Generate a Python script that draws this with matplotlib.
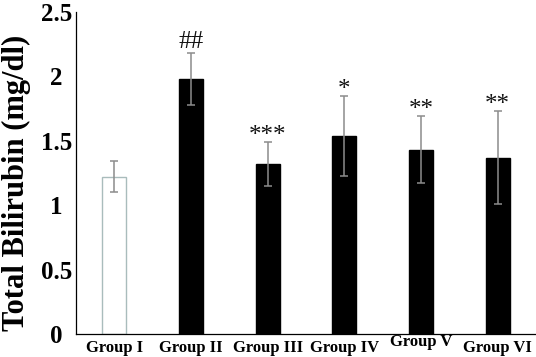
import numpy as np
import matplotlib
matplotlib.use("Agg")
import matplotlib.pyplot as plt

groups = ["Group I", "Group II", "Group III", "Group IV", "Group V", "Group VI"]
means = [1.22, 1.98, 1.32, 1.54, 1.43, 1.37]
errors = [0.12, 0.20, 0.17, 0.31, 0.26, 0.36]
marks = ["", "##", "***", "*", "**", "**"]
yticks = [0, 0.5, 1, 1.5, 2, 2.5]

plt.rcParams['font.family'] = ['Liberation Serif', 'DejaVu Serif']

fig = plt.figure(figsize=(5.36, 3.57), dpi=100)
ax = fig.add_axes([76 / 536, 23 / 357, 460 / 536, 322 / 357])

x = np.arange(len(groups))
face = ['white'] + ['black'] * (len(groups) - 1)
edge = ['#a9bcbc'] + ['black'] * (len(groups) - 1)
ax.bar(x, means, width=0.31, color=face, edgecolor=edge, linewidth=1.0, zorder=2)
ax.errorbar(x, means, yerr=errors, fmt='none', ecolor='#8c8c8c',
            elinewidth=1.1, capsize=3, capthick=1.1, zorder=3)

for i, m in enumerate(marks):
    if not m:
        continue
    off = 4 if '#' in m else 0
    ax.annotate(m, (x[i], means[i] + errors[i]), xytext=(0, off),
                textcoords='offset points', ha='center', va='baseline',
                fontsize=18, color='#111111')

ax.set_xlim(-0.5, 5.5)
ax.set_ylim(0, 2.5)
ax.set_yticks(yticks)
ax.set_yticklabels(["0", "0.5", "1", "1.5", "2", "2.5"], fontsize=18,
                   fontweight='bold', ha='center')
ax.set_xticks(x)
ax.set_xticklabels(groups, fontsize=12, fontweight='bold')
ax.get_xticklabels()[4].set_y(0.016)  # "Group V" sits a bit higher in the original
ax.tick_params(axis='both', length=0)
ax.tick_params(axis='y', pad=14)
ax.tick_params(axis='x', pad=4)
ax.spines['top'].set_visible(False)
ax.spines['right'].set_visible(False)
ax.spines['left'].set_linewidth(0.9)
ax.spines['bottom'].set_linewidth(0.9)
ax.set_ylabel("Total Bilirubin (mg/dl)", fontsize=22, fontweight='bold')
ax.yaxis.set_label_coords(-0.098, 0.47)

fig.savefig("out.png", dpi=100)
